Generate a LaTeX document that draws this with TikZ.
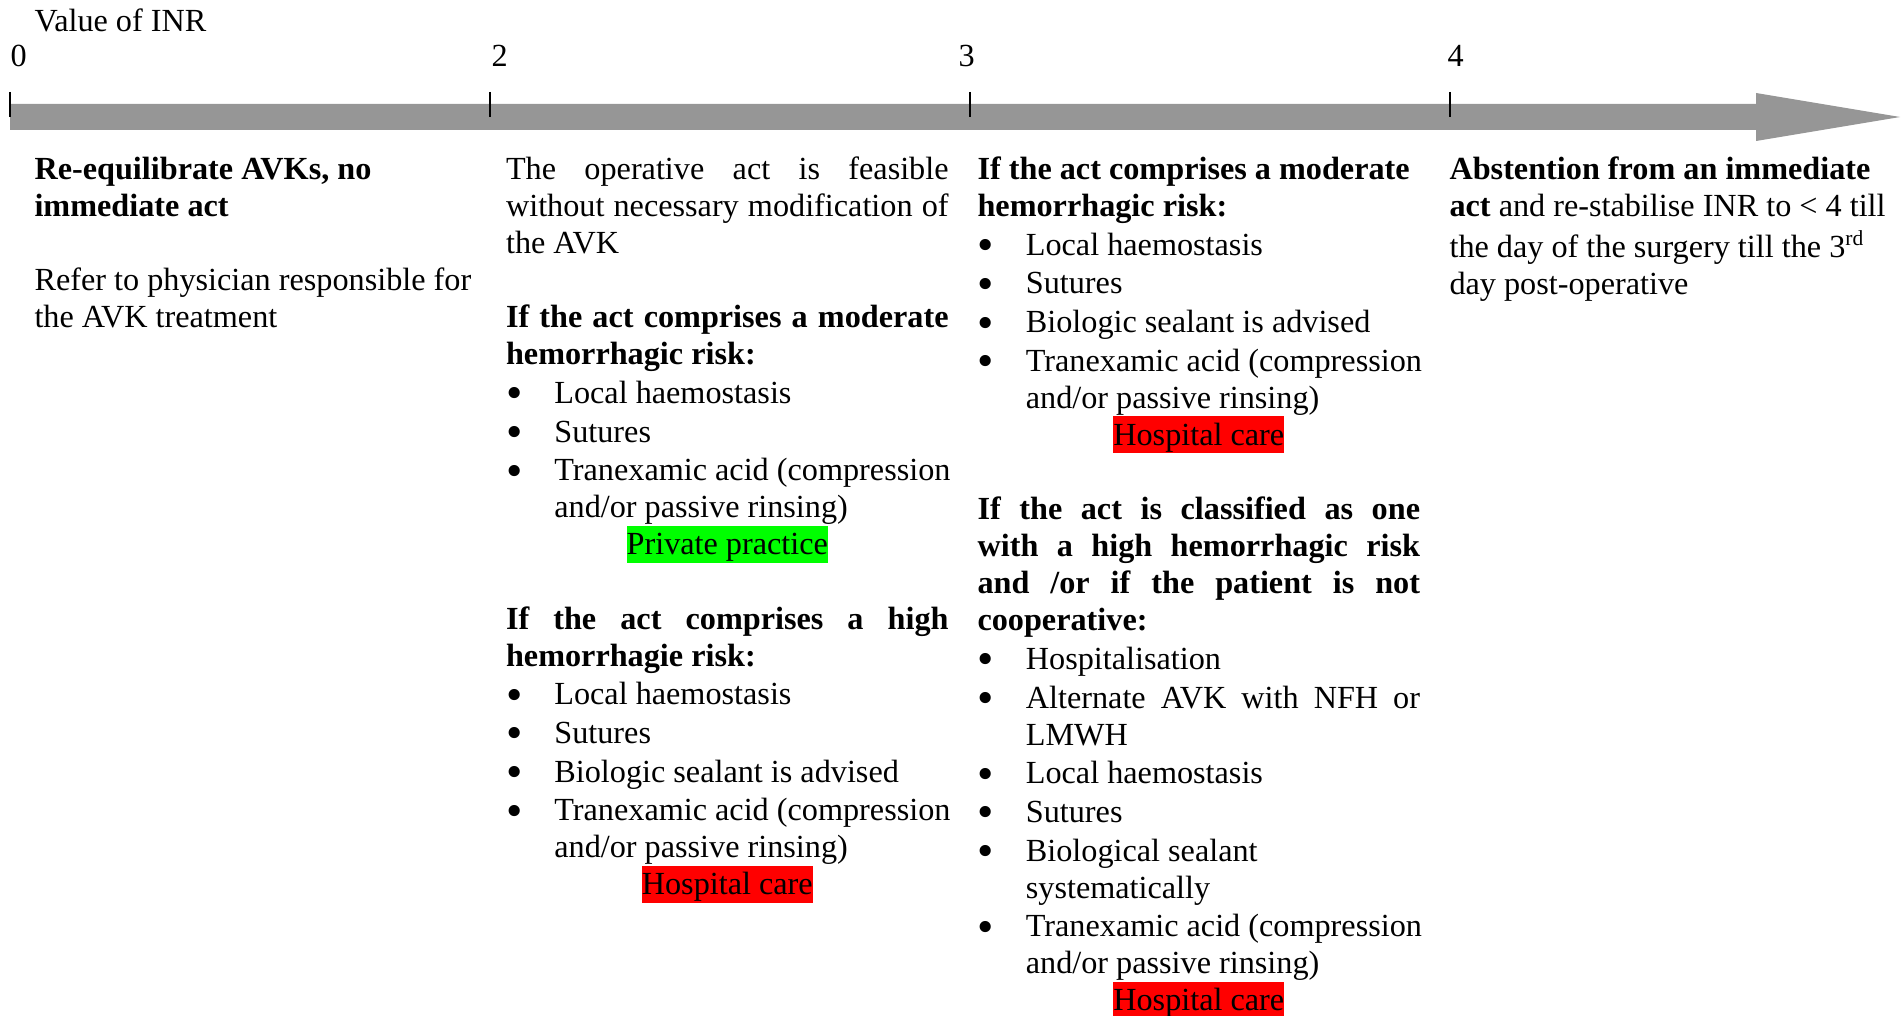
\documentclass[tikz,border=0pt]{standalone}
\usepackage{graphicx}
\usepackage{fontspec}
\setmainfont{Liberation Serif}
\definecolor{inrbar}{RGB}{150,150,150}
\definecolor{pracgreen}{RGB}{0,255,0}
\definecolor{hospred}{RGB}{255,0,0}
\setlength{\parindent}{0pt}
\setlength{\parskip}{0pt}
\setlength{\fboxsep}{0pt}
\hbadness=10000
\hfuzz=20pt
% plain spacing inside the columns
\newcommand{\colsetup}{\spaceskip=0pt\xspaceskip=0pt\rightskip=0pt\leftskip=0pt\frenchspacing}
\newcommand{\bulletmark}{\raisebox{-2pt}{\scalebox{1.45}{\textbullet}}}
% lines of a column: justified, ragged, bullet, bullet justified, hung on
\newcommand{\jl}[1]{\par\noindent\makebox[\hsize][s]{\strut#1}\par}
\newcommand{\rl}[1]{\par\noindent\mbox{\strut#1}\par}
\newcommand{\bl}[1]{\par\vspace{0.6pt}\noindent\makebox[18pt][l]{\bulletmark}\mbox{\strut#1}\par}
\newcommand{\bjl}[1]{\par\vspace{0.6pt}\noindent\makebox[18pt][l]{\bulletmark}\makebox[\dimexpr\hsize-18pt\relax][s]{\strut#1}\par}
\newcommand{\cl}[1]{\par\noindent\hspace*{18pt}\mbox{\strut#1}\par}
\newcommand{\emptyrow}{\rl{}}
% centred line with a coloured highlight
\newcommand{\hilite}[2]{\par\noindent\makebox[\hsize]{\strut\smash{\colorbox{#1}{\rule[-3pt]{0pt}{13.8pt}#2}}}\par}
\tikzset{
  colbox/.style={anchor=north west, inner sep=0pt, text width=164.8pt, align=justify},
  scalelab/.style={anchor=base west, inner sep=0pt},
  inrtick/.style={line width=0.75pt}
}
\begin{document}
\begin{tikzpicture}[x=0.3724pt, y=-0.3724pt, font=\fontsize{12}{13.8}\selectfont]
\useasboundingbox (0,0) rectangle (1901,1016);
% INR axis
\fill[inrbar] (10,104) -- (1756,104) -- (1756,93) -- (1900,117) -- (1756,141) -- (1756,130) -- (10,130) -- cycle;
\foreach \v/\x/\lx in {0/10/10, 2/490/491, 3/970/958, 4/1450/1447}{
  \draw[inrtick] (\x,92) -- (\x,117);
  \node[scalelab] (val\v) at (\lx,67) {\v};
}
\node[scalelab] (inrtitle) at (34,32) {Value of INR};
% below 2
\node[colbox] (under2) at (34,142) {\colsetup
  \rl{\textbf{Re-equilibrate AVKs, no}}
  \rl{\textbf{immediate act}}
  \emptyrow
  \rl{Refer to physician responsible for}
  \rl{the AVK treatment}};
% between 2 and 3
\node[colbox] (from2to3) at (505.5,142) {\colsetup
  \jl{The operative act is feasible}
  \jl{without necessary modification of}
  \rl{the AVK}
  \emptyrow
  \jl{\textbf{If the act comprises a moderate}}
  \rl{\textbf{hemorrhagic risk:}}
  \bl{Local haemostasis}
  \bl{Sutures}
  \bl{Tranexamic acid (compression}
  \cl{and/or passive rinsing)}
  \hilite{pracgreen}{Private practice}
  \emptyrow
  \jl{\textbf{If the act comprises a high}}
  \rl{\textbf{hemorrhagie risk:}}
  \bl{Local haemostasis}
  \bl{Sutures}
  \bl{Biologic sealant is advised}
  \bl{Tranexamic acid (compression}
  \cl{and/or passive rinsing)}
  \hilite{hospred}{Hospital care}};
% between 3 and 4
\node[colbox] (from3to4) at (977,142) {\colsetup
  \rl{\textbf{If the act comprises a moderate}}
  \rl{\textbf{hemorrhagic risk:}}
  \bl{Local haemostasis}
  \bl{Sutures}
  \bl{Biologic sealant is advised}
  \bl{Tranexamic acid (compression}
  \cl{and/or passive rinsing)}
  \hilite{hospred}{Hospital care}
  \emptyrow
  \jl{\textbf{If the act is classified as one}}
  \jl{\textbf{with a high hemorrhagic risk}}
  \jl{\textbf{and /or if the patient is not}}
  \rl{\textbf{cooperative:}}
  \bl{Hospitalisation}
  \bjl{Alternate AVK with NFH or}
  \cl{LMWH}
  \bl{Local haemostasis}
  \bl{Sutures}
  \bl{Biological sealant}
  \cl{systematically}
  \bl{Tranexamic acid (compression}
  \cl{and/or passive rinsing)}
  \hilite{hospred}{Hospital care}};
% above 4
\node[colbox] (over4) at (1449,142) {\colsetup
  \rl{\textbf{Abstention from an immediate}}
  \rl{\textbf{act} and re-stabilise INR to < 4 till}
  \rl{the day of the surgery till the 3\textsuperscript{rd}}
  \rl{day post-operative}};
\end{tikzpicture}
\end{document}
